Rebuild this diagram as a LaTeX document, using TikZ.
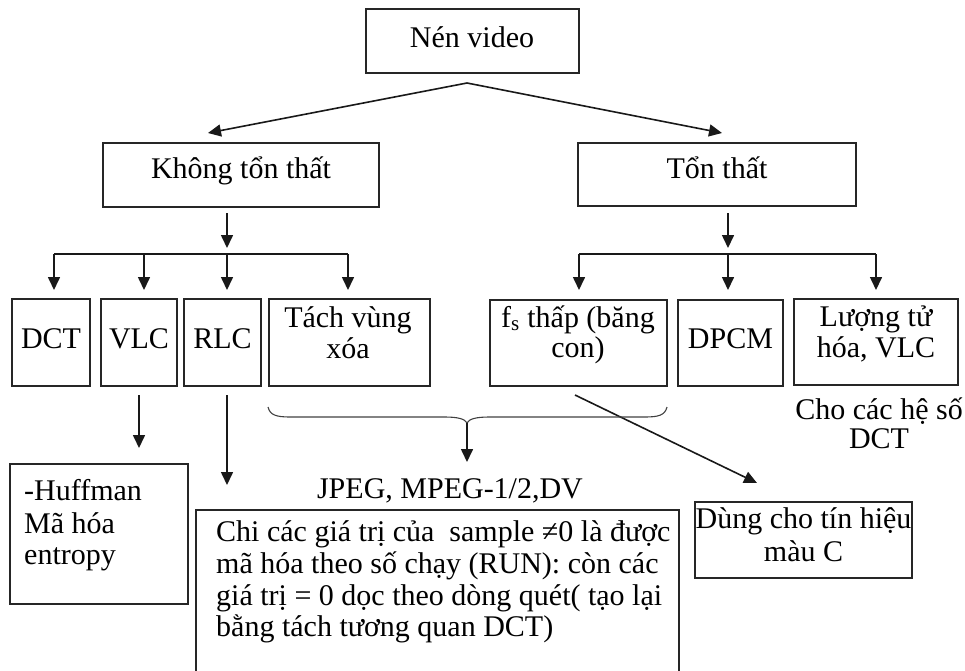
\documentclass[tikz,border=0pt]{standalone}
\usepackage{fontspec}
\setmainfont{Liberation Serif}
\usetikzlibrary{arrows.meta}
\begin{document}
\begin{tikzpicture}[x=1pt,y=-1pt,
  box/.style={draw=black!85,line width=1.3pt,inner sep=0pt,minimum width=#1},
  txt/.style={inner sep=0pt,font=\fontsize{30}{32}\selectfont,anchor=base},
  ltxt/.style={txt,anchor=base west},
  con/.style={line width=1.6pt,draw=black!90},
  arr/.style={con,-{Triangle[length=13pt,width=12pt]}}]
\useasboundingbox (0,0) rectangle (965,670);

% top level
\node[box=213pt,minimum height=64pt] (nen) at (472.5,41) {};
\node[txt] (nent) at (472,47) {Nén video};
\node[box=276pt,minimum height=64pt] (kong) at (241,175) {};
\node[txt] (kongt) at (241,178) {Không tổn thất};
\node[box=278pt,minimum height=63pt] (ton) at (717,174.5) {};
\node[txt] (tont) at (717,178) {Tổn thất};

\coordinate (split) at (467,83);
\coordinate (ktip) at (208,133);
\coordinate (ttip) at (722,133);
\draw[arr] (split) -- (ktip);
\draw[arr] (split) -- (ttip);

% second row of boxes
\node[box=78pt,minimum height=87pt] (dct) at (51,342.5) {};
\node[txt] (dctt) at (51,348) {DCT};
\node[box=76pt,minimum height=87pt] (vlc) at (139,342.5) {};
\node[txt] (vlct) at (139,348) {VLC};
\node[box=77pt,minimum height=87pt] (rlc) at (222.5,342.5) {};
\node[txt] (rlct) at (222.5,348) {RLC};
\node[box=161pt,minimum height=87pt] (tach) at (349.5,342.5) {};
\node[txt] (tacht1) at (348,327) {Tách vùng};
\node[txt] (tacht2) at (348,358) {xóa};
\node[box=177pt,minimum height=86pt] (fs) at (578.5,343) {};
\node[txt] (fst1) at (578,327) {f\textsubscript{s} thấp (băng};
\node[txt] (fst2) at (578,357) {con)};
\node[box=105pt,minimum height=86pt] (dpcm) at (730.5,343) {};
\node[txt] (dpcmt) at (730.5,348) {DPCM};
\node[box=164pt,minimum height=86pt] (luong) at (876,342) {};
\node[txt] (luongt1) at (876,326) {Lượng tử};
\node[txt] (luongt2) at (876,357) {hóa, VLC};
\node[txt,text depth=1pt] (cho1) at (879,419) {Cho các hệ số};
\node[txt,text height=19pt] (cho2) at (879,448) {DCT};

% left fan-out
\coordinate (ks) at (227,213);
\coordinate (kj) at (227,248);
\draw[arr] (ks) -- (kj);
\coordinate (kbl) at (54,254);
\coordinate (kbr) at (348,254);
\draw[con] (kbl) -- (kbr);
\draw[arr] (kbl) -- (54,290);
\draw[arr] (144,254) -- (144,290);
\draw[arr] (227,254) -- (227,290);
\draw[arr] (kbr) -- (348,290);

% right fan-out
\coordinate (ts) at (728,213);
\coordinate (tj) at (728,248);
\draw[arr] (ts) -- (tj);
\coordinate (tbl) at (579,254);
\coordinate (tbr) at (876,254);
\draw[con] (tbl) -- (tbr);
\draw[arr] (tbl) -- (579,290);
\draw[arr] (728,254) -- (728,290);
\draw[arr] (tbr) -- (876,290);

% lower boxes
\node[box=178pt,minimum height=140pt] (huff) at (99,534) {};
\node[ltxt] (hufft1) at (24,500) {-Huffman};
\node[ltxt] (hufft2) at (24,533) {Mã hóa};
\node[ltxt] (hufft3) at (24,564) {entropy};

\node[box=483pt,minimum height=180pt] (run) at (437.5,600) {};
\node[ltxt] (runt1) at (216,541) {Chi các giá trị của~~sample ≠0 là được};
\node[ltxt] (runt2) at (216,573) {mã hóa theo số chạy (RUN): còn các};
\node[ltxt] (runt3) at (216,605) {giá trị = 0 dọc theo dòng quét( tạo lại};
\node[ltxt] (runt4) at (216,636) {bằng tách tương quan DCT)};

\node[txt] (jpeg) at (450,498) {JPEG, MPEG-1/2,DV};

\node[box=217pt,minimum height=76pt] (dung) at (803.5,540) {};
\node[txt] (dungt1) at (803.5,528) {Dùng cho tín hiệu};
\node[txt] (dungt2) at (803.5,561) {màu C};

% arrows to the lower row
\draw[arr] (139,395) coordinate (vs) -- (139,448) coordinate (vt);
\draw[arr] (227,395) coordinate (rs) -- (227,485) coordinate (rt);
\draw[arr] (575,395) coordinate (ds) -- (757,483) coordinate (dt);

% brace under the lossless and sub-band boxes
\coordinate (bl) at (268,407);
\coordinate (bm) at (467,423);
\coordinate (br) at (667,407);
\draw[line width=1.1pt,black!75]
  (bl) .. controls (270,415) and (276,417) .. (290,417)
  -- (445,417) .. controls (458,417) and (465,419) .. (bm)
  .. controls (469,419) and (476,417) .. (489,417)
  -- (645,417) .. controls (659,417) and (665,415) .. (br);
\draw[arr] (bm) -- (467,462) coordinate (bt);
\end{tikzpicture}
\end{document}
